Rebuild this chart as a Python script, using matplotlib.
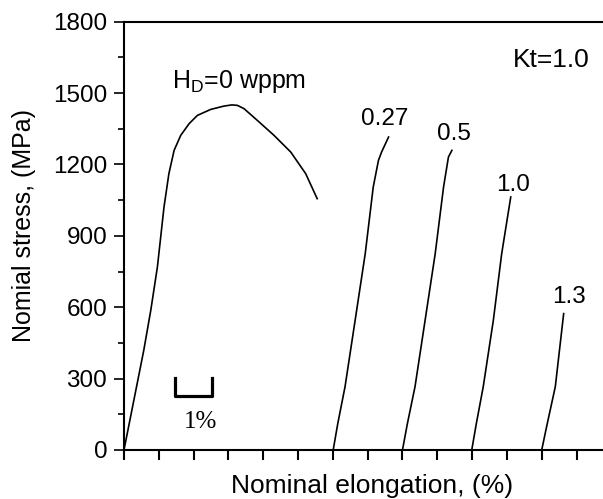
import matplotlib
matplotlib.use("Agg")
import matplotlib.pyplot as plt
from matplotlib.ticker import MultipleLocator, NullFormatter

plt.rcParams['font.family'] = ['Liberation Sans', 'DejaVu Sans']
plt.rcParams['mathtext.fontset'] = 'custom'
plt.rcParams['mathtext.rm'] = 'Liberation Sans'

# Curvas tensión-elongación (elongación en %, tensión en MPa)
h0_x = [0, 0.19, 0.38, 0.57, 0.77, 0.96, 1.15, 1.29, 1.44, 1.63, 1.87, 2.11, 2.49,
        2.87, 3.10, 3.26, 3.45, 3.83, 4.31, 4.79, 5.22, 5.55]
h0_y = [0, 140, 280, 420, 587, 769, 1021, 1161, 1259, 1322, 1371, 1406, 1431,
        1445, 1450, 1448, 1434, 1385, 1322, 1252, 1161, 1056]

h027_x = [6.01, 6.14, 6.35, 6.64, 6.93, 7.16, 7.31, 7.40, 7.60]
h027_y = [0, 110, 266, 545, 825, 1105, 1217, 1252, 1315]

h05_x = [8.0, 8.14, 8.36, 8.65, 8.94, 9.18, 9.32, 9.42]
h05_y = [0, 110, 266, 545, 825, 1105, 1231, 1259]

h10_x = [9.99, 10.12, 10.32, 10.61, 10.85, 11.11]
h10_y = [0, 110, 266, 545, 825, 1063]

h13_x = [12.0, 12.14, 12.39, 12.63]
h13_y = [0, 98, 266, 573]

curves = [(h0_x, h0_y), (h027_x, h027_y), (h05_x, h05_y), (h10_x, h10_y), (h13_x, h13_y)]

labels = ["0.27", "0.5", "1.0", "1.3"]
label_x = [7.50, 9.48, 11.18, 12.79]
label_y = [1364, 1301, 1088, 617]

y_ticks = [0, 300, 600, 900, 1200, 1500, 1800]

fig = plt.figure(figsize=(6.03, 4.99), dpi=100)
ax = fig.add_axes([0.2056, 0.0982, 0.7944, 0.8585])

for x, y in curves:
    ax.plot(x, y, color='black', lw=1.2)

ax.text(1.38, 1523, r"H$_{\mathrm{D}}$=0 wppm", fontsize=18, ha='left', va='baseline')
ax.text(13.39, 1611, "Kt=1.0", fontsize=19, ha='right', va='baseline')
for lab, lx, ly in zip(labels, label_x, label_y):
    ax.text(lx, ly, lab, fontsize=17.5, ha='center', va='baseline')

# barra de escala 1%
ax.plot([1.47, 1.47, 2.53, 2.53], [302, 227, 227, 302], color='black', lw=2.3)
ax.text(2.21, 92, "1%", fontsize=18, ha='center', va='baseline',
        family=['Liberation Serif'])

ax.set_xlim(0, 13.76)
ax.set_ylim(0, 1800)
ax.set_yticks(y_ticks)
ax.yaxis.set_minor_locator(MultipleLocator(150))
ax.xaxis.set_major_locator(MultipleLocator(1))
ax.xaxis.set_major_formatter(NullFormatter())

ax.spines['right'].set_visible(False)
for s in ['left', 'bottom', 'top']:
    ax.spines[s].set_linewidth(1.5)

ax.tick_params(axis='y', which='major', direction='out', length=7, width=1.2,
               labelsize=17.5, pad=5)
ax.tick_params(axis='y', which='minor', direction='out', length=4, width=1.2)
ax.tick_params(axis='x', which='major', direction='out', length=7, width=1.5)

ax.set_xlabel("Nominal elongation, (%)", fontsize=19, va='top')
ax.xaxis.set_label_coords(0.517, -0.055)
ax.set_ylabel("Nomial stress, (MPa)", fontsize=18, va='center')
ax.yaxis.set_label_coords(-0.209, 0.525)

fig.savefig("out.png", dpi=100)
